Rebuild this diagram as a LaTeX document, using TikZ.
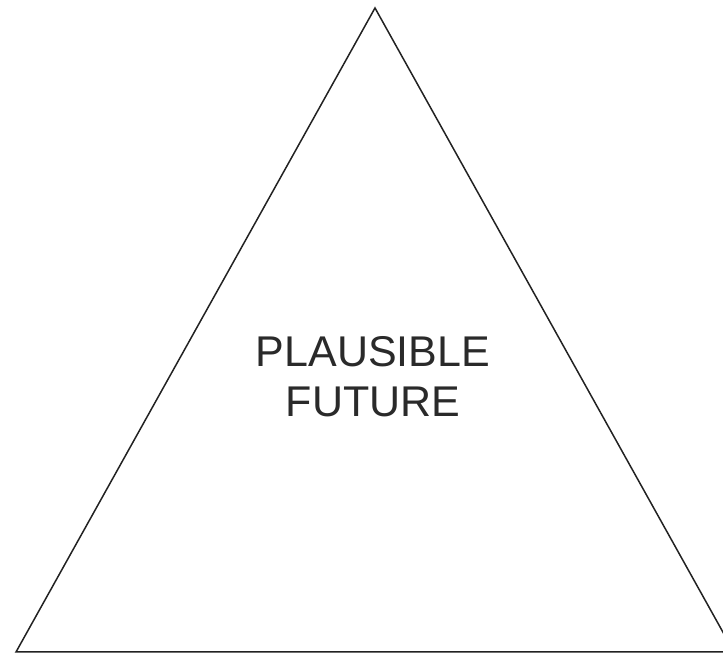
\documentclass[tikz,border=0pt]{standalone}
\usepackage{fontspec}
\setmainfont{Liberation Sans}
\definecolor{edge-grey}{HTML}{222222}
\definecolor{label-grey}{HTML}{2A2A2A}

\begin{document}
\begin{tikzpicture}[x=1pt, y=1pt,
      every node/.style={font=\fontsize{43}{50}\selectfont}]
    \useasboundingbox (0,0) rectangle (723,655);
    \clip (0,0) rectangle (723,655);
    \coordinate (apex)  at (375,647);
    \coordinate (left)  at (16,3);
    \coordinate (right) at (734,3);
    \draw[edge-grey, line width=1.5pt, line join=miter] (apex) -- (left) -- (right) -- cycle;
    \node[label-grey, align=center] (future) at (373,278) {PLAUSIBLE\\FUTURE};
  \end{tikzpicture}
\end{document}
